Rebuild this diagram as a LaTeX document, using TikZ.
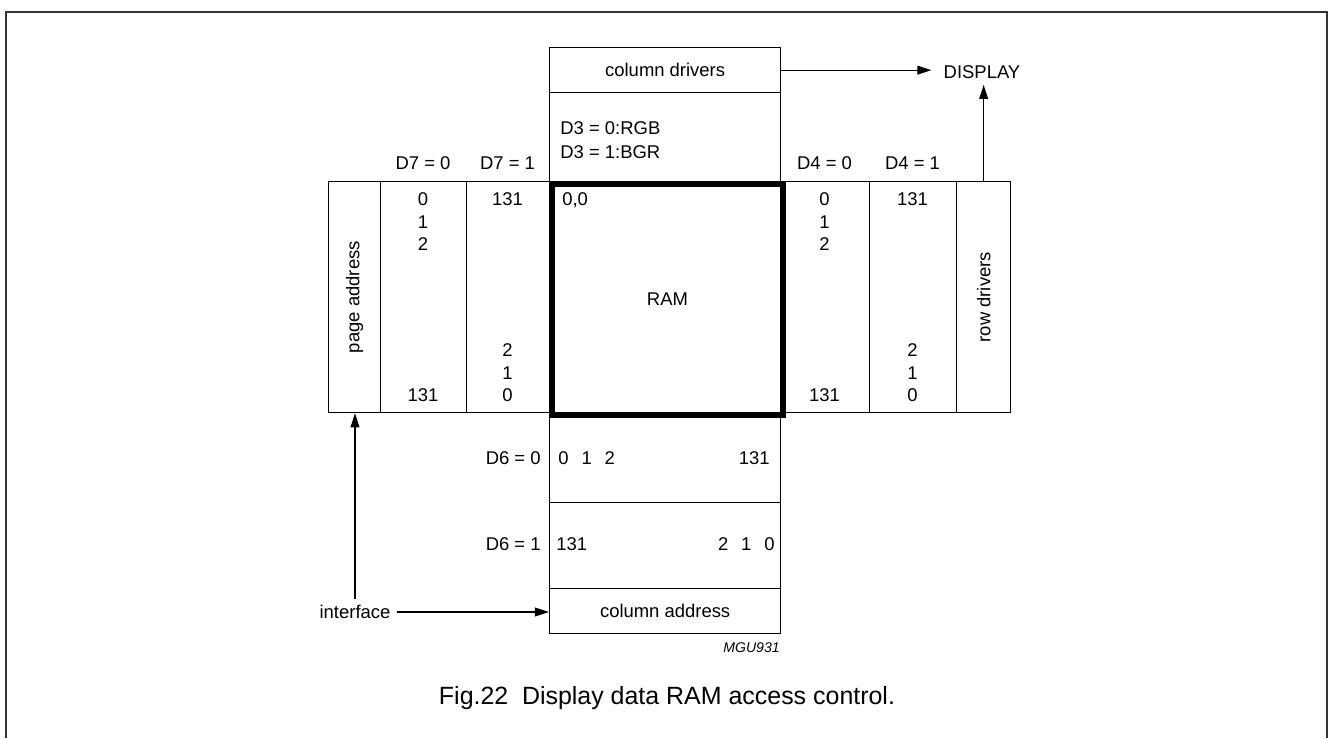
\documentclass[tikz,border=0pt]{standalone}
\usepackage{fontspec}
\setmainfont{Liberation Sans}
\usetikzlibrary{arrows.meta}

\tikzset{
  box/.style={draw, line width=0.75pt, inner sep=0pt, anchor=north west,
    font=\fontsize{10.5}{12.75}\selectfont},
  lbl/.style={inner sep=0pt, font=\fontsize{10.5}{12.75}\selectfont},
  flow/.style={line width=0.75pt, -{Triangle[length=8pt, width=5pt]}},
  frame/.style={line width=1.1pt, draw=black!80},
}

\begin{document}
\begin{tikzpicture}[x=0.02cm, y=-0.02cm]
	\useasboundingbox (0,0) rectangle (1332,738);
	% Frame:
	\draw[frame] (6,738) |- (1327,12) -- (1327,738);
	% Upper and lower column blocks:
	\node[box, minimum width=4.62cm, minimum height=0.9cm] (coldrv) at (549,47) {column drivers};
	\node[box, minimum width=4.62cm, minimum height=1.78cm] (order) at (549,92) {};
	\node[box, minimum width=4.62cm, minimum height=1.8cm] (dsix0) at (549,412) {};
	\node[box, minimum width=4.62cm, minimum height=1.72cm] (dsix1) at (549,502) {};
	\node[box, minimum width=4.62cm, minimum height=0.9cm] (coladdr) at (549,588) {column address};
	% Row block:
	\node[box, minimum width=1.04cm, minimum height=4.62cm] (pageaddr) at (328,181) {};
	\node[box, minimum width=1.72cm, minimum height=4.62cm] (dseven0) at (380,181) {};
	\node[box, minimum width=1.66cm, minimum height=4.62cm] (dseven1) at (466,181) {};
	\node[box, minimum width=1.78cm, minimum height=4.62cm] (dfour0) at (780,181) {};
	\node[box, minimum width=1.74cm, minimum height=4.62cm] (dfour1) at (869,181) {};
	\node[box, minimum width=1.08cm, minimum height=4.62cm] (rowdrv) at (956,181) {};
	\node[box, line width=3.4pt, minimum width=4.62cm, minimum height=4.62cm] (ram) at (549,181) {RAM};
	\node[lbl, rotate=90] (pagelbl) at (pageaddr.center) {page address};
	\node[lbl, rotate=90] (rowlbl) at (rowdrv.center) {row drivers};
	% Bit labels:
	\node[lbl, anchor=base west] (rgb) at (560,134.5) {D3 = 0:RGB};
	\node[lbl, anchor=base west] (bgr) at (560,158.5) {D3 = 1:BGR};
	\node[lbl, anchor=base] (dsevenzero) at (423,169.5) {D7 = 0};
	\node[lbl, anchor=base] (dsevenone) at (507.5,169.5) {D7 = 1};
	\node[lbl, anchor=base] (dfourzero) at (824.5,169.5) {D4 = 0};
	\node[lbl, anchor=base] (dfourone) at (912.5,169.5) {D4 = 1};
	\node[lbl, anchor=base east] (dsixzero) at (541,464.5) {D6 = 0};
	\node[lbl, anchor=base east] (dsixone) at (541,550.5) {D6 = 1};
	% Row numbers:
	\foreach \c/\x in {up0/423, up1/824.5} {
		\foreach \v [count=\i] in {0,1,2}
			\node[lbl, anchor=base] (\c-\v) at (\x,183+22.5*\i) {\v};
		\node[lbl, anchor=base] (\c-last) at (\x,401.5) {131};
	}
	\foreach \c/\x in {dn0/507.5, dn1/912.5} {
		\node[lbl, anchor=base] (\c-first) at (\x,205.5) {131};
		\foreach \v [count=\i] in {0,1,2}
			\node[lbl, anchor=base] (\c-\v) at (\x,424-22.5*\i) {\v};
	}
	% Column numbers:
	\node[lbl, anchor=base west] (origin) at (562,205.5) {0,0};
	\node[lbl, anchor=base west] (colup) at (558,464.5) {0\hspace{0.7em}1\hspace{0.7em}2};
	\node[lbl, anchor=base east] (colupend) at (770,464.5) {131};
	\node[lbl, anchor=base west] (coldn) at (556,550.5) {131};
	\node[lbl, anchor=base east] (coldnend) at (775,550.5) {2\hspace{0.7em}1\hspace{0.7em}0};
	% Outside labels and arrows:
	\node[lbl, inner xsep=0.24cm, inner ysep=0.12cm] (display) at (982,72) {DISPLAY};
	\node[lbl, inner sep=0.12cm] (iface) at (355,612) {interface};
	\draw[flow] (coldrv.east) -- (coldrv.east -| display.west);
	\draw[flow] (rowdrv.north) -- (rowdrv.north |- display.south);
	\draw[flow] (iface.east) -- (iface.east -| coladdr.west);
	\draw[flow] (iface.north) -- (iface.north |- pageaddr.south);
	\node[inner sep=0pt, anchor=base east, font=\fontsize{8}{9}\selectfont\itshape] (mgu) at (780,652) {MGU931};
	\node[inner sep=0pt, font=\fontsize{14.2}{17}\selectfont] (caption) at (667,698) {Fig.22\hspace{0.55em}Display data RAM access control.};
\end{tikzpicture}
\end{document}
